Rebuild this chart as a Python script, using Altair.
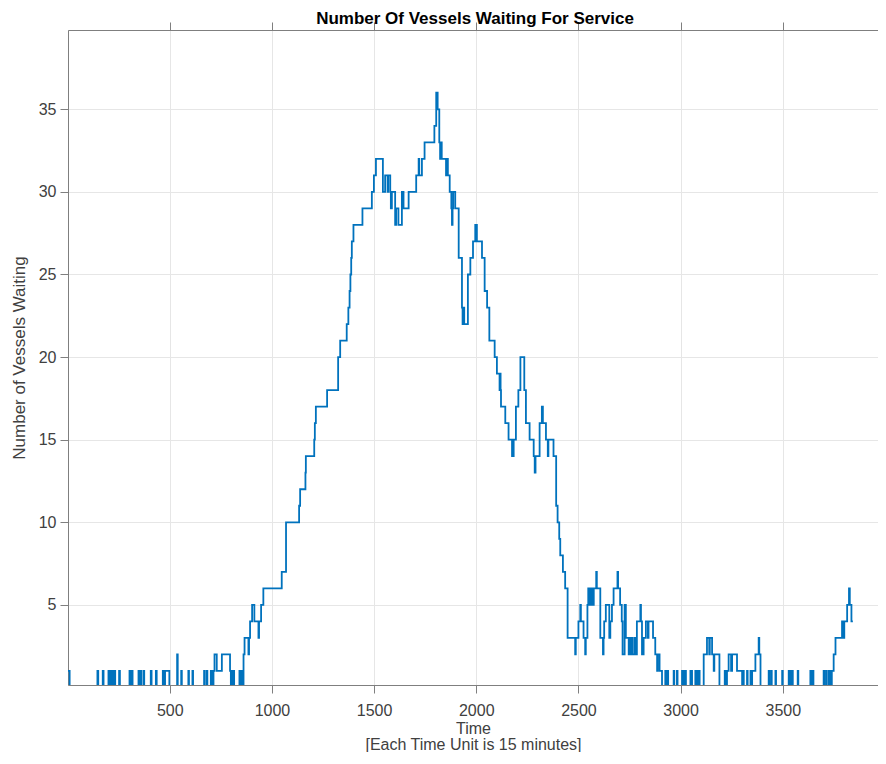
import altair as alt
import pandas as pd

# Change points of the stair plot (time unit, number of vessels waiting)
times = [
    0, 10,
    146, 150, 172, 176, 200, 204, 208, 212, 219, 223, 229, 233, 252, 256,
    303, 307, 314, 318, 347, 351, 356, 360, 371, 375, 407, 411, 432, 436, 466, 470,
    477, 498,
    536, 539, 556, 559, 591, 594, 611, 614, 668, 671, 681, 684,
    701, 703, 705, 707, 709, 712, 714, 719, 730, 755, 795,
    799, 801, 803, 806, 809, 812, 815,
    841, 844, 852, 855,
    861, 866, 885, 888, 893, 903, 914, 934, 937, 947, 958,
    1048, 1069, 1133, 1138, 1164, 1166, 1207, 1210, 1215, 1270, 1324, 1334,
    1366, 1374, 1380, 1384, 1388, 1391, 1399, 1443, 1489, 1499, 1509,
    1543, 1554, 1566, 1569, 1579, 1582, 1587, 1603, 1608, 1619, 1636, 1644, 1669,
    1706, 1718, 1721, 1734, 1747, 1795, 1804, 1811, 1819, 1823, 1827, 1831, 1836,
    1852, 1857, 1861, 1870, 1878, 1881, 1884, 1887, 1897, 1914,
    1930, 1933, 1938, 1941, 1959, 1971, 1984, 1995, 2003, 2028, 2041, 2053, 2064,
    2090, 2101, 2114, 2117, 2119, 2121, 2142, 2158, 2175, 2183, 2194, 2206, 2216,
    2235, 2243, 2261, 2281, 2286, 2290, 2310, 2321, 2326, 2341, 2350, 2353, 2378,
    2391, 2398, 2406, 2411, 2424, 2435, 2447, 2484, 2487, 2500, 2509, 2512, 2525,
    2533, 2536, 2544, 2548, 2552, 2556, 2560, 2565, 2570, 2575, 2587, 2590, 2607,
    2620, 2623, 2626, 2634, 2651, 2656, 2664, 2672, 2691, 2694, 2704, 2712, 2716,
    2726, 2732, 2746, 2750, 2755, 2760, 2765, 2775, 2780, 2786, 2803, 2806, 2811,
    2819, 2830, 2840, 2843, 2865, 2876, 2885, 2888, 2897, 2909,
    2925, 2928, 2936, 2939, 2966, 2969, 2982, 2985, 3007, 3010, 3012, 3015, 3017, 3020, 3023, 3026,
    3048, 3051, 3053, 3056, 3072, 3075, 3077, 3080, 3082, 3085, 3090, 3093,
    3113, 3129, 3140, 3143, 3154, 3162, 3165, 3190,
    3216, 3219, 3227, 3235, 3247, 3252, 3276, 3301, 3306, 3309, 3325, 3328, 3342, 3345,
    3350, 3366, 3382, 3385, 3391,
    3431, 3434, 3443, 3446, 3464, 3467, 3497, 3500, 3529, 3532, 3535, 3538, 3546, 3549, 3573, 3576,
    3635, 3638, 3641, 3644, 3647, 3650,
    3700, 3703, 3712, 3715, 3725, 3728, 3733, 3736,
    3740, 3749, 3758, 3790, 3798, 3801, 3815, 3824, 3828, 3836, 3843,
]

counts = [
    1, 0,
    1, 0, 1, 0, 1, 0, 1, 0, 1, 0, 1, 0, 1, 0,
    1, 0, 1, 0, 1, 0, 1, 0, 1, 0, 1, 0, 1, 0, 1, 0,
    1, 0,
    2, 0, 1, 0, 1, 0, 1, 0, 1, 0, 1, 0,
    1, 0, 1, 0, 1, 0, 1, 2, 1, 2, 1,
    0, 1, 0, 1, 0, 1, 0,
    1, 0, 1, 0,
    2, 3, 2, 3, 4, 5, 4, 3, 4, 5, 6,
    7, 10, 11, 12, 13, 14, 15, 16, 17, 18, 20, 21,
    22, 23, 24, 25, 26, 27, 28, 29, 30, 31, 32,
    30, 31, 30, 31, 30, 29, 30, 28, 29, 28, 30, 29, 30,
    31, 32, 31, 32, 33, 34, 36, 35, 33, 32, 33, 32, 32,
    31, 32, 31, 30, 29, 28, 29, 30, 29, 26,
    23, 22, 23, 22, 25, 26, 27, 28, 27, 26, 24, 23, 21,
    20, 19, 18, 19, 18, 17, 16, 15, 14, 15, 17, 18, 20,
    18, 16, 15, 14, 13, 14, 16, 17, 16, 15, 14, 15, 14,
    11, 10, 9, 8, 7, 6, 3, 2, 3, 4, 5, 4, 3,
    2, 3, 5, 6, 5, 6, 5, 6, 5, 6, 7, 6, 3,
    2, 3, 4, 5, 3, 4, 5, 6, 7, 6, 5, 4, 2,
    5, 3, 2, 3, 2, 3, 2, 3, 2, 4, 5, 4, 2,
    3, 4, 3, 4, 3, 2, 1, 2, 1, 0,
    1, 0, 1, 0, 1, 0, 1, 0, 1, 0, 1, 0, 1, 0, 1, 0,
    1, 0, 1, 0, 1, 0, 1, 0, 1, 0, 1, 0,
    2, 3, 2, 3, 2, 1, 2, 0,
    1, 0, 1, 2, 1, 2, 1, 0, 1, 0, 1, 0, 1, 0,
    1, 2, 3, 2, 0,
    1, 0, 1, 0, 1, 0, 1, 0, 1, 0, 1, 0, 1, 0, 1, 0,
    1, 0, 1, 0, 1, 0,
    1, 0, 1, 0, 1, 0, 1, 0,
    1, 2, 3, 4, 3, 4, 5, 6, 5, 4, 4,
]

x_ticks = [500, 1000, 1500, 2000, 2500, 3000, 3500]
y_ticks = [5, 10, 15, 20, 25, 30, 35]
x_domain = [2, 3966]
y_domain = [0.15, 39.8]

df = pd.DataFrame({"t": times, "n": counts})

FONT = "Liberation Sans"
AX = "#7f7f7f"
TXT = "#404040"
GRID = "#e6e6e6"

base = alt.Chart(df)

main = base.mark_line(
    interpolate="step-after", color="#0072BD", strokeWidth=1.8, clip=True
).encode(
    x=alt.X(
        "t:Q",
        scale=alt.Scale(domain=x_domain, nice=False, zero=False),
        axis=alt.Axis(
            orient="bottom", values=x_ticks, format="d", grid=True, gridColor=GRID,
            domainColor=AX, tickColor=AX, tickSize=8, labelFontSize=16,
            labelColor=TXT, labelFont=FONT, labelPadding=9,
            title=["Time", "[Each Time Unit is 15 minutes]"],
            titleFontSize=16, titleFontWeight="normal", titleColor=TXT,
            titleFont=FONT, titlePadding=2, titleLineHeight=16,
        ),
    ),
    y=alt.Y(
        "n:Q",
        scale=alt.Scale(domain=y_domain, nice=False, zero=False),
        axis=alt.Axis(
            orient="left", values=y_ticks, grid=True, gridColor=GRID,
            domainColor=AX, tickColor=AX, tickSize=8, labelFontSize=16,
            labelColor=TXT, labelFont=FONT, labelPadding=4,
            title="Number of Vessels Waiting", titleFontSize=17,
            titleFontWeight="normal", titleColor=TXT, titleFont=FONT,
            titlePadding=10,
        ),
    ),
)

frame = base.mark_line(strokeOpacity=0).encode(
    x=alt.X(
        "t:Q",
        scale=alt.Scale(domain=x_domain, nice=False, zero=False),
        axis=alt.Axis(
            orient="top", values=x_ticks, grid=False, labels=False,
            domainColor=AX, tickColor=AX, tickSize=8, title=None,
        ),
    ),
    y=alt.Y(
        "n:Q",
        scale=alt.Scale(domain=y_domain, nice=False, zero=False),
        axis=alt.Axis(
            orient="right", values=y_ticks, grid=False, labels=False,
            domainColor=AX, tickColor=AX, tickSize=8, title=None,
        ),
    ),
)

chart = (
    alt.layer(main, frame)
    .resolve_scale(x="independent", y="independent")
    .properties(
        width=810,
        height=655,
        autosize=alt.AutoSizeParams(type="none"),
        padding={"left": 60, "top": 22, "right": 0, "bottom": 67},
        title=alt.TitleParams(
            "Number Of Vessels Waiting For Service",
            fontSize=17, fontWeight="bold", color="#000000", font=FONT,
            anchor="middle", baseline="alphabetic", offset=0, dy=19, dx=2,
        ),
    )
    .configure_view(stroke=None)
    .configure(background="white")
)

chart.save("out.html", embed_options={"renderer": "svg", "actions": False})
